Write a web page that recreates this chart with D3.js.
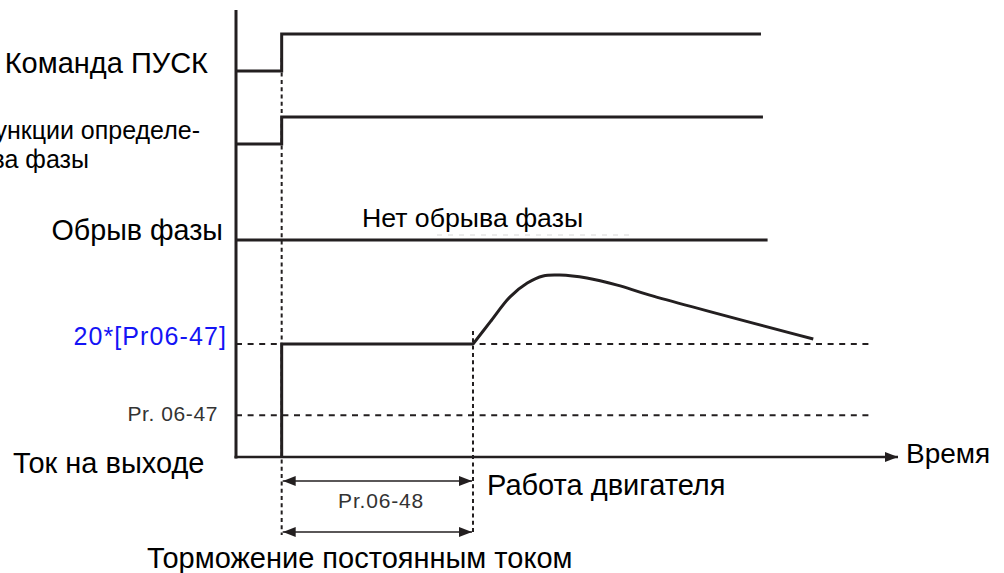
<!DOCTYPE html>
<html><head><meta charset="utf-8">
<script src="https://cdn.jsdelivr.net/npm/d3@7"></script>
<style>
html,body{margin:0;padding:0;background:#fff;}
svg{display:block;font-family:"Liberation Sans",Arial,sans-serif;}
</style></head>
<body>
<svg id="chart" width="1004" height="573"></svg>
<script>
// ---- data (time in arbitrary units, levels in arbitrary units) ----
const tStart = 0.69;          // RUN command / DC brake start
const tBrakeEnd = 3.58;       // end of Pr.06-48 DC braking
const runCommand = [[0,0],[tStart,0],[tStart,1],[7.93,1]];
const phaseDetect = [[0,0],[tStart,0],[tStart,1],[7.96,1]];
const phaseLoss = [[0,0],[8.03,0]];
const currentStep = [[tStart,0],[tStart,2.7],[tBrakeEnd,2.7]];
const currentCurve = [[3.58,2.70],[3.84,3.23],[4.14,3.83],[4.40,4.16],[4.64,4.33],[4.89,4.35],[5.30,4.28],[5.76,4.11],[6.25,3.87],[8.72,2.82]];
const refLevels = [{label:"20*[Pr06-47]", value:2.7, end:9.58}, {label:"Pr. 06-47", value:1.0, end:9.58}];
const laneLabels = ["Команда ПУСК", "Функции определе-", "ния обрыва фазы", "Обрыв фазы", "Ток на выходе"];
const axisLabel = "Время";
const annot = {noLoss:"Нет обрыва фазы", brakeTime:"Pr.06-48", running:"Работа двигателя", dcBrake:"Торможение постоянным током"};

// ---- layout ----
const svg = d3.select("#chart");
const ink = "#231f20";
const x = d3.scaleLinear().domain([0,10]).range([236,898]);
const yRun = d3.scaleLinear().domain([0,1]).range([71,34]);
const yDet = d3.scaleLinear().domain([0,1]).range([144,117]);
const yLoss = d3.scaleLinear().domain([0,1]).range([240,200]);
const yCur = d3.scaleLinear().domain([0,4.4]).range([457,273]);

// arrow markers
const defs = svg.append("defs");
defs.append("marker").attr("id","ah").attr("viewBox","0 0 13 10").attr("refX",13).attr("refY",5)
  .attr("markerWidth",13).attr("markerHeight",10).attr("markerUnits","userSpaceOnUse").attr("orient","auto-start-reverse")
  .append("path").attr("d","M0,0L13,5L0,10Z").attr("fill",ink);

// reference dotted levels
const refStyle = [{color:"#1414f5", size:25, ls:1.1, dy:1, xEnd:227}, {color:"#333", size:21, ls:0.6, dy:6, xEnd:218}];
refLevels.forEach((r,i)=>{
  svg.append("line").attr("x1",x(0)).attr("x2",x(r.end)).attr("y1",yCur(r.value)).attr("y2",yCur(r.value))
    .attr("stroke",ink).attr("stroke-width",2).attr("stroke-dasharray","6,5.6");
  const s = refStyle[i];
  svg.append("text").attr("x",s.xEnd).attr("y",yCur(r.value)+s.dy).attr("text-anchor","end")
    .attr("fill",s.color).attr("font-size",s.size).attr("letter-spacing",s.ls).text(r.label);
});

// vertical dotted time markers
svg.append("line").attr("x1",x(tStart)).attr("x2",x(tStart)).attr("y1",58).attr("y2",535)
  .attr("stroke",ink).attr("stroke-width",2).attr("stroke-dasharray","4,3.3");
svg.append("line").attr("x1",x(tBrakeEnd)).attr("x2",x(tBrakeEnd)).attr("y1",331).attr("y2",535)
  .attr("stroke",ink).attr("stroke-width",2).attr("stroke-dasharray","4,3.3");

// faint artifact under "no phase loss"
svg.append("line").attr("x1",437).attr("x2",633).attr("y1",235).attr("y2",235)
  .attr("stroke","#d8d8d8").attr("stroke-width",1).attr("stroke-dasharray","5,6");

// axes
svg.append("line").attr("x1",x(0)).attr("x2",x(0)).attr("y1",10).attr("y2",yCur(0)+1.5)
  .attr("stroke",ink).attr("stroke-width",3);
svg.append("line").attr("x1",x(0)-1.5).attr("x2",x(10)).attr("y1",yCur(0)).attr("y2",yCur(0))
  .attr("stroke",ink).attr("stroke-width",2.5).attr("marker-end","url(#ah)");

// digital signals
const line = (ys)=>d3.line().x(d=>x(d[0])).y(d=>ys(d[1]));
[[runCommand,yRun],[phaseDetect,yDet],[phaseLoss,yLoss]].forEach(([d,ys])=>{
  svg.append("path").attr("d",line(ys)(d)).attr("fill","none").attr("stroke",ink).attr("stroke-width",3);
});
// output current
svg.append("path").attr("d",line(yCur)(currentStep)).attr("fill","none").attr("stroke",ink).attr("stroke-width",3);
svg.append("path").attr("d",d3.line().x(d=>x(d[0])).y(d=>yCur(d[1])).curve(d3.curveCatmullRom)(currentCurve))
  .attr("fill","none").attr("stroke",ink).attr("stroke-width",3);

// double arrows
[481,532].forEach(yy=>{
  svg.append("line").attr("x1",x(tStart)+1).attr("x2",x(tBrakeEnd)-1).attr("y1",yy).attr("y2",yy)
    .attr("stroke",ink).attr("stroke-width",1.5).attr("marker-start","url(#ah)").attr("marker-end","url(#ah)");
});

// labels
const T = (txt,xx,yy,size,anchor,fill)=>svg.append("text").attr("x",xx).attr("y",yy).attr("font-size",size)
  .attr("text-anchor",anchor||"start").attr("fill",fill||"#000").text(txt);
T(laneLabels[0],208,73,29,"end");
T(laneLabels[1],200,139,25,"end");
T(laneLabels[2],89,168,25,"end");
T(laneLabels[3],223,240,28.7,"end");
T(laneLabels[4],13,473,29,"start");
T(axisLabel,906,463,28,"start");
T(annot.noLoss,362,227,26.7,"start");
T(annot.brakeTime,381,508,21,"middle","#333").attr("letter-spacing",0.8);
T(annot.running,487,495,29,"start");
T(annot.dcBrake,147,568,29,"start");
</script>
</body></html>
